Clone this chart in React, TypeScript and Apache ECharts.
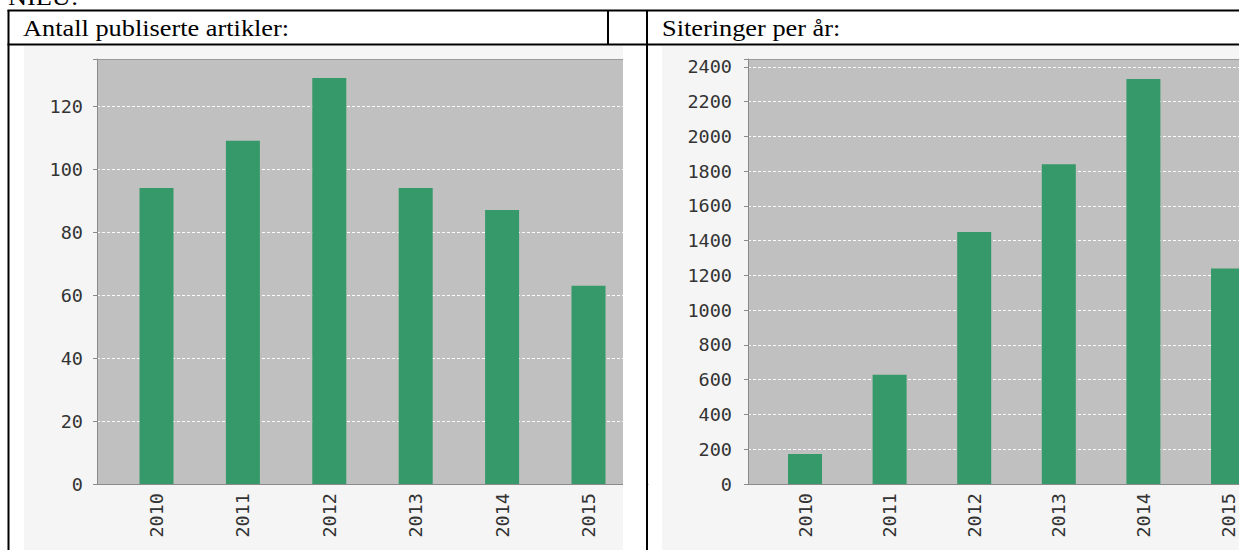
import React, { useEffect, useRef } from 'react';
import * as echarts from 'echarts';

const years = ['2010', '2011', '2012', '2013', '2014', '2015'];
const articles = [94, 109, 129, 94, 87, 63];
const citations = [172, 628, 1450, 1840, 2330, 1240];
const articlesMax = 135;
const articlesStep = 20;
const citationsMax = 2445;
const citationsStep = 200;
const pageTitle = 'NIEU:';
const leftTitle = 'Antall publiserte artikler:';
const rightTitle = 'Siteringer per år:';

const GREEN = '#36996a';
const PLOT = '#c0c0c0';
const IMG_BG = '#f5f5f5';
const LABEL_FONT = '"DejaVu Sans Mono", monospace';
const SERIF = '"Liberation Serif", "Times New Roman", serif';
const CANVAS_W = 1320;

export default function App() {
  const ref = useRef<HTMLDivElement>(null);
  useEffect(() => {
    document.body.style.margin = '0';
    document.body.style.background = '#fff';
    document.body.style.overflow = 'hidden';
    const chart = echarts.init(ref.current!, null, { renderer: 'svg' });
    const top = 59;
    const h = 425;
    const labelStyle = { fontFamily: LABEL_FONT, fontSize: 18.5, color: '#333' };
    const frameX = (gi: number) => ({
      gridIndex: gi,
      type: 'category',
      data: years,
      axisLine: { show: true, lineStyle: { color: '#8a8a8a', width: 1 } },
      axisTick: { show: false },
      axisLabel: { show: false },
      splitLine: { show: false },
    });
    const barX = (gi: number) => ({
      gridIndex: gi,
      type: 'category',
      data: years,
      axisLine: { show: false },
      axisTick: { show: false },
      axisLabel: { ...labelStyle, rotate: 90, margin: 9 },
      splitLine: { show: false },
    });
    const frameY = (gi: number, max: number, step: number, margin: number) => ({
      gridIndex: gi,
      type: 'value',
      min: 0,
      max,
      interval: step,
      axisLine: { show: true, lineStyle: { color: '#8a8a8a', width: 1 } },
      axisTick: { show: true, length: 4, lineStyle: { color: '#8a8a8a' } },
      axisLabel: {
        ...labelStyle,
        margin,
        formatter: (v: number) => (v % step === 0 ? String(v) : ''),
      },
      splitLine: { show: true, lineStyle: { color: '#ffffff', type: [3, 2], width: 1 } },
    });
    const barY = (gi: number, max: number) => ({
      gridIndex: gi,
      type: 'value',
      min: 0,
      max,
      show: false,
      splitLine: { show: false },
    });
    const line = (x1: number, y1: number, x2: number, y2: number, stroke = '#000', lineWidth = 2, z = 100) => ({
      type: 'line',
      z,
      shape: { x1, y1, x2, y2 },
      style: { stroke, lineWidth },
    });
    const text = (t: string, x: number, y: number) => ({
      type: 'text',
      z: 100,
      x,
      y,
      scaleX: 1.145,
      style: {
        text: t,
        font: `23px ${SERIF}`,
        fill: '#000',
        align: 'left',
        verticalAlign: 'middle',
      },
    });

    chart.setOption({
      animation: false,
      backgroundColor: '#fff',
      grid: [
        { left: 97, top, width: 551, height: h, show: true, backgroundColor: PLOT, borderWidth: 0 },
        { left: 113.3, top, width: 518.4, height: h },
        { left: 748, top, width: 540, height: h, show: true, backgroundColor: PLOT, borderWidth: 0 },
        { left: 762.7, top, width: 507.6, height: h },
      ],
      xAxis: [frameX(0), barX(1), frameX(2), barX(3)],
      yAxis: [
        frameY(0, articlesMax, articlesStep, 14),
        barY(1, articlesMax),
        frameY(2, citationsMax, citationsStep, 16),
        barY(3, citationsMax),
      ],
      series: [
        { type: 'bar', xAxisIndex: 1, yAxisIndex: 1, data: articles, barWidth: 34, itemStyle: { color: GREEN } },
        { type: 'bar', xAxisIndex: 3, yAxisIndex: 3, data: citations, barWidth: 34, itemStyle: { color: GREEN } },
      ],
      graphic: [
        { type: 'rect', z: -10, shape: { x: 24, y: 46, width: 599, height: 504 }, style: { fill: IMG_BG } },
        { type: 'rect', z: -10, shape: { x: 662, y: 46, width: CANVAS_W - 662, height: 504 }, style: { fill: IMG_BG } },
        { type: 'rect', z: 50, shape: { x: 623, y: 46, width: 23, height: 504 }, style: { fill: '#fff' } },
        line(97, 59.5, 623, 59.5, '#9a9a9a', 1, 40),
        line(748, 59.5, CANVAS_W, 59.5, '#9a9a9a', 1, 40),
        line(7.5, 10.5, CANVAS_W, 10.5),
        line(7.5, 44.5, CANVAS_W, 44.5),
        line(8.5, 10, 8.5, 550),
        line(608, 10, 608, 45),
        line(647, 10, 647, 550),
        text(pageTitle, 8, -3),
        text(leftTitle, 23, 28),
        text(rightTitle, 662, 28),
      ],
    });
    return () => chart.dispose();
  }, []);
  return (
    <div style={{ position: 'fixed', left: 0, top: 0, width: 1239, height: 550, overflow: 'hidden', background: '#fff' }}>
      <div ref={ref} style={{ width: CANVAS_W, height: 550 }} />
    </div>
  );
}
